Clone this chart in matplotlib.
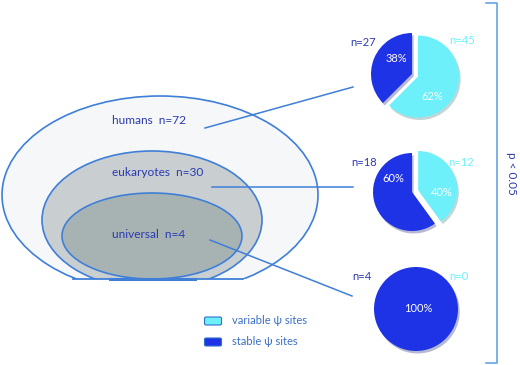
import matplotlib
matplotlib.use('Agg')
import matplotlib.pyplot as plt
from matplotlib.patches import Ellipse, Rectangle, FancyBboxPatch

plt.rcParams['font.family'] = ['Lato', 'DejaVu Sans']

# data
groups = ['humans', 'eukaryotes', 'universal']
group_n = [72, 30, 4]
stable_n = [27, 18, 4]
variable_n = [45, 12, 0]
legend_labels = ['variable \u03c8 sites', 'stable \u03c8 sites']
p_text = 'p < 0.05'

dark = '#1f33e6'
cyan = '#6ef0fa'
edge = '#3f7fd8'
txt_dark = '#2a3ab0'
txt_blue = '#3a6fc8'

H = 365
def Y(y):  # image row -> axes y
    return H - y

fig = plt.figure(figsize=(5.2, 3.65), dpi=100)
ax = fig.add_axes([0, 0, 1, 1])

# nested ellipses, cut flat at the bottom
ell = [
    # cx, cy, a, b, fill
    (160, 195, 158, 99, '#f6f7f8'),
    (152, 220, 110, 69, '#c9cfd1'),
    (152, 236, 90, 43, '#a7b2b3'),
]
cut = Rectangle((-10, Y(279)), 600, 400, transform=ax.transData)
for cx, cy, a, b, fc in ell:
    e = Ellipse((cx, Y(cy)), 2 * a, 2 * b, facecolor=fc, edgecolor=edge, lw=1.2)
    ax.add_patch(e)
    e.set_clip_path(cut)
ax.plot([73, 243], [Y(279), Y(279)], color=edge, lw=1.3)
ax.plot([110, 195], [Y(279), Y(279)], color=edge, lw=2.2)

# group labels
label_pos = [(112, 121), (112, 173), (112, 235)]
for (x, y), g, n in zip(label_pos, groups, group_n):
    ax.text(x, Y(y), f'{g}  n={n}', color=txt_dark, fontsize=8.6, va='center', ha='left')

# connector lines
conn = [((205, 128), (353, 87)), ((212, 187), (353, 187)), ((210, 240), (352, 296))]
for (x0, y0), (x1, y1) in conn:
    ax.plot([x0, x1], [Y(y0), Y(y1)], color=edge, lw=1.1)

# pies
pie_center = [(412, 74), (412, 192), (416, 309)]
pie_r = [41, 39, 42]
pct_pos = [((396, 58), (432, 96)), ((393, 179), (442, 193)), ((418, 308), None)]
n_pos = [((363, 42), (462, 41)), ((364, 162), (461, 162)), ((362, 277), (459, 277))]
for i in range(3):
    s, v = stable_n[i], variable_n[i]
    cx, cy = pie_center[i]
    ax.pie([s, v], colors=[dark, cyan], startangle=90, counterclock=True,
           center=(cx, Y(cy)), radius=pie_r[i], explode=[0, 6.5 if v else 0],
           wedgeprops=dict(linewidth=0),
           shadow={'ox': 1.2, 'oy': -1.8, 'shade': 0.5, 'alpha': 0.3})
    ps = round(100 * s / (s + v))
    (xs, ys), pv = pct_pos[i]
    ax.text(xs, Y(ys), f'{ps}%', color='white', fontsize=8, ha='center', va='center')
    if pv is not None:
        ax.text(pv[0], Y(pv[1]), f'{100 - ps}%', color='white', fontsize=8,
                ha='center', va='center')
    (xn, yn), (xv, yv) = n_pos[i]
    ax.text(xn, Y(yn), f'n={s}', color=txt_dark, fontsize=8, ha='center', va='center')
    ax.text(xv, Y(yv), f'n={v}', color=cyan, fontsize=8, ha='center', va='center')

# bracket
ax.plot([486, 497, 497, 486], [Y(3), Y(3), Y(363), Y(363)], color='#5b9be0', lw=1.1)
ax.text(512, Y(173), p_text, color=txt_dark, fontsize=8.5, rotation=-90,
        ha='center', va='center')

# legend
for (y, col), lab in zip([(321, cyan), (342, dark)], legend_labels):
    box = FancyBboxPatch((205, Y(y) - 3.5), 16, 7, boxstyle='round,pad=0.5,rounding_size=1.5',
                         facecolor=col, edgecolor='#2f6fd0', lw=0.8)
    ax.add_patch(box)
    ax.text(232, Y(y) + 0.5, lab, color=txt_blue, fontsize=8, ha='left', va='center')

ax.set_xlim(0, 520)
ax.set_ylim(0, 365)
ax.set_aspect('auto')
ax.axis('off')
fig.savefig('out.png', dpi=100)
